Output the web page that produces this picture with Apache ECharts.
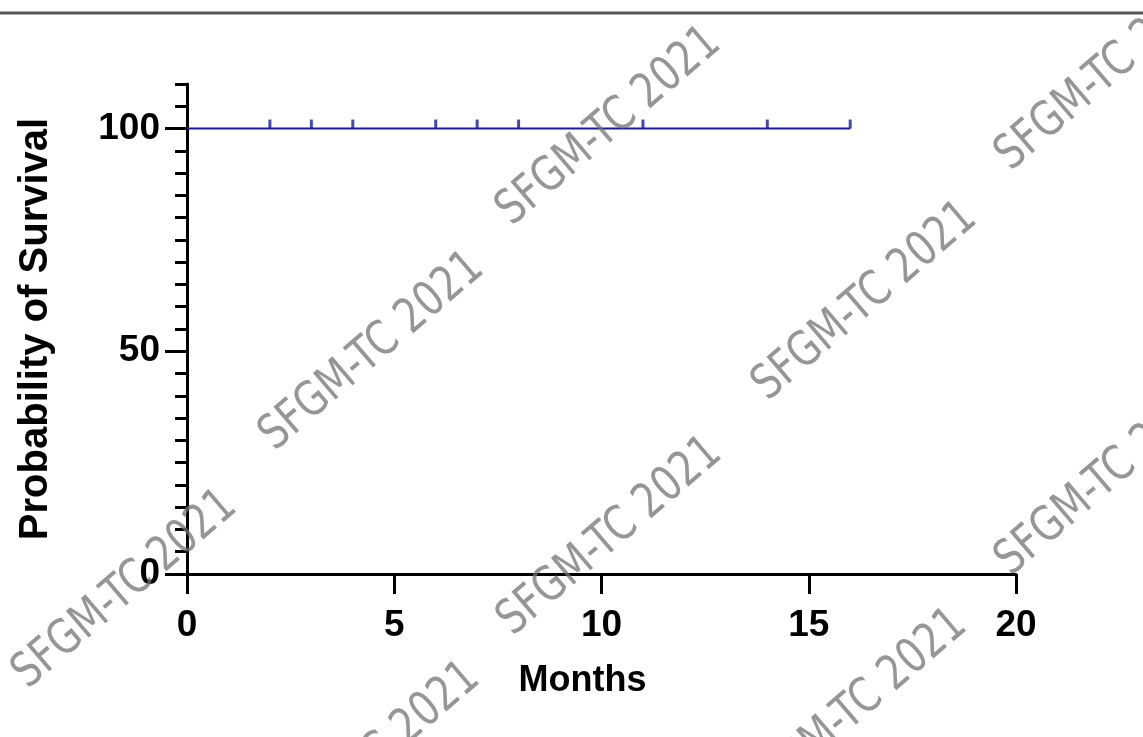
<!DOCTYPE html>
<html>
<head>
<meta charset="utf-8">
<script src="https://cdn.jsdelivr.net/npm/echarts@6/dist/echarts.min.js"></script>
<style>html,body{margin:0;padding:0;background:#fff}#c{width:1143px;height:737px}</style>
</head>
<body>
<div id="c"></div>
<script>
// ---- data ----
const curveMonths = [0, 16];
const curveSurvival = [100, 100];
const censorMonths = [2, 3, 4, 6, 7, 8, 11, 14, 16];
const censorSurvival = [100, 100, 100, 100, 100, 100, 100, 100, 100];
const xTicks = [0, 5, 10, 15, 20];
const yTickLabels = [0, 50, 100];
const watermarkText = 'SFGM-TC 2021';

// ---- layout (not data) ----
const wmCenters = [[609,127],[1108,72],[372,352],[865,302],[125,590],[610,537],[1108,477],[368,762],[855,709]];

const chart = echarts.init(document.getElementById('c'), null, {renderer: 'canvas'});
const lblFont = '"Liberation Sans", Arial, sans-serif';
const navy = '#1a1a96';

const graphics = [
  {type: 'line', shape: {x1: 0, y1: 13, x2: 1143, y2: 13}, style: {stroke: '#555', lineWidth: 3}, z: 10}
];
wmCenters.forEach(function (c) {
  graphics.push({
    type: 'text', x: c[0], y: c[1], rotation: 40.5 * Math.PI / 180, scaleX: 0.89, scaleY: 1.0, z: 100,
    style: {text: watermarkText, fill: 'rgba(115,115,115,0.75)', font: '48px "Liberation Sans Narrow", "DejaVu Sans Condensed", sans-serif', textAlign: 'center', textVerticalAlign: 'middle'}
  });
});

chart.setOption({
  animation: false,
  backgroundColor: '#fff',
  grid: {left: 187, right: 127, top: 84, bottom: 163, containLabel: false},
  xAxis: {
    type: 'value', min: 0, max: 20, interval: 5,
    name: 'Months', nameLocation: 'middle', nameGap: 89,
    nameTextStyle: {fontFamily: lblFont, fontWeight: 'bold', fontSize: 36, color: '#000', padding: [0, 38, 0, 0]},
    axisLine: {lineStyle: {color: '#000', width: 3}},
    axisTick: {show: true, inside: false, length: 20, lineStyle: {color: '#000', width: 3}, customValues: xTicks},
    axisLabel: {fontFamily: lblFont, fontWeight: 'bold', fontSize: 37, color: '#000', margin: 33, customValues: xTicks},
    splitLine: {show: false}
  },
  yAxis: [{
    type: 'value', min: 0, max: 110, interval: 50,
    name: 'Probability of Survival', nameLocation: 'middle', nameGap: 131, nameRotate: 90,
    nameTextStyle: {fontFamily: lblFont, fontWeight: 'bold', fontSize: 40, color: '#000'},
    axisLine: {show: true, lineStyle: {color: '#000', width: 3}},
    axisTick: {show: true, inside: false, length: 22, lineStyle: {color: '#000', width: 3}, customValues: yTickLabels},
    axisLabel: {fontFamily: lblFont, fontWeight: 'bold', fontSize: 37, color: '#000', margin: 27, customValues: yTickLabels},
    splitLine: {show: false}
  }, {
    type: 'value', min: 0, max: 110, interval: 5, position: 'left', offset: 0,
    axisLine: {show: false},
    axisTick: {show: true, inside: false, length: 12, lineStyle: {color: '#000', width: 3}},
    axisLabel: {show: false},
    splitLine: {show: false}
  }],
  series: [{
    type: 'line', step: 'end', yAxisIndex: 0,
    data: curveMonths.map(function (m, i) { return [m, curveSurvival[i]]; }),
    showSymbol: false, lineStyle: {color: navy, width: 2}, z: 3
  }, {
    type: 'scatter', yAxisIndex: 0,
    data: censorMonths.map(function (m, i) { return [m, censorSurvival[i]]; }),
    symbol: 'rect', symbolSize: [3, 9], symbolOffset: [0, -4.5],
    itemStyle: {color: navy}, z: 4
  }],
  graphic: graphics
});
</script>
</body>
</html>
